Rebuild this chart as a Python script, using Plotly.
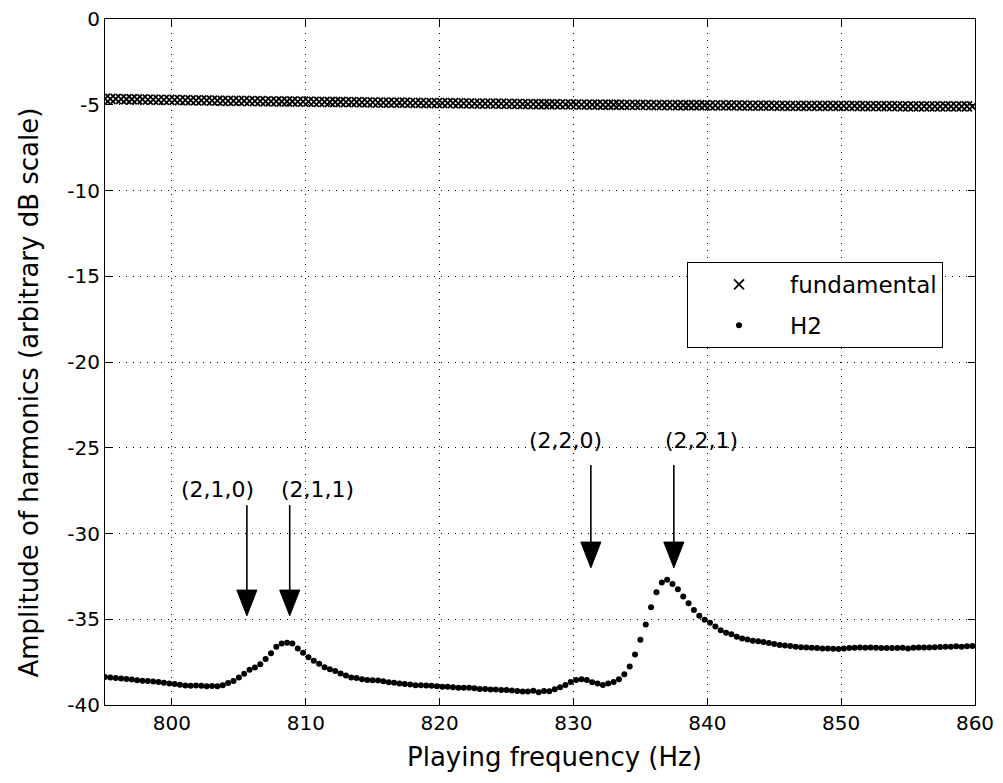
import plotly.graph_objects as go

# ---------------- data ----------------
freq = [
    795.0, 795.4, 795.8, 796.2, 796.6, 797.0, 797.4, 797.8, 798.2, 798.6,
    799.0, 799.4, 799.8, 800.2, 800.6, 801.0, 801.4, 801.8, 802.2, 802.6,
    803.0, 803.4, 803.8, 804.2, 804.6, 805.0, 805.4, 805.8, 806.2, 806.6,
    807.0, 807.4, 807.8, 808.2, 808.6, 809.0, 809.4, 809.8, 810.2, 810.6,
    811.0, 811.4, 811.8, 812.2, 812.6, 813.0, 813.4, 813.8, 814.2, 814.6,
    815.0, 815.4, 815.8, 816.2, 816.6, 817.0, 817.4, 817.8, 818.2, 818.6,
    819.0, 819.4, 819.8, 820.2, 820.6, 821.0, 821.4, 821.8, 822.2, 822.6,
    823.0, 823.4, 823.8, 824.2, 824.6, 825.0, 825.4, 825.8, 826.2, 826.6,
    827.0, 827.4, 827.8, 828.2, 828.6, 829.0, 829.4, 829.8, 830.2, 830.6,
    831.0, 831.4, 831.8, 832.2, 832.6, 833.0, 833.4, 833.8, 834.2, 834.6,
    835.0, 835.4, 835.8, 836.2, 836.6, 837.0, 837.4, 837.8, 838.2, 838.6,
    839.0, 839.4, 839.8, 840.2, 840.6, 841.0, 841.4, 841.8, 842.2, 842.6,
    843.0, 843.4, 843.8, 844.2, 844.6, 845.0, 845.4, 845.8, 846.2, 846.6,
    847.0, 847.4, 847.8, 848.2, 848.6, 849.0, 849.4, 849.8, 850.2, 850.6,
    851.0, 851.4, 851.8, 852.2, 852.6, 853.0, 853.4, 853.8, 854.2, 854.6,
    855.0, 855.4, 855.8, 856.2, 856.6, 857.0, 857.4, 857.8, 858.2, 858.6,
    859.0, 859.4, 859.8,
]

fundamental = [
    -4.65, -4.66, -4.66, -4.67, -4.68, -4.68, -4.69, -4.69, -4.70, -4.70,
    -4.71, -4.71, -4.72, -4.72, -4.73, -4.73, -4.74, -4.74, -4.75, -4.75,
    -4.76, -4.76, -4.77, -4.77, -4.77, -4.78, -4.78, -4.79, -4.79, -4.79,
    -4.80, -4.80, -4.80, -4.81, -4.81, -4.81, -4.82, -4.82, -4.82, -4.83,
    -4.83, -4.83, -4.84, -4.84, -4.84, -4.85, -4.85, -4.85, -4.86, -4.86,
    -4.86, -4.87, -4.87, -4.87, -4.88, -4.88, -4.88, -4.89, -4.89, -4.89,
    -4.90, -4.90, -4.90, -4.91, -4.91, -4.91, -4.92, -4.92, -4.92, -4.93,
    -4.93, -4.93, -4.94, -4.94, -4.94, -4.95, -4.95, -4.95, -4.96, -4.96,
    -4.96, -4.97, -4.97, -4.97, -4.97, -4.98, -4.98, -4.98, -4.98, -4.99,
    -4.99, -4.99, -4.99, -5.00, -5.00, -5.00, -5.00, -5.01, -5.01, -5.01,
    -5.01, -5.01, -5.02, -5.02, -5.02, -5.02, -5.02, -5.03, -5.03, -5.03,
    -5.03, -5.03, -5.03, -5.04, -5.04, -5.04, -5.04, -5.04, -5.04, -5.05,
    -5.05, -5.05, -5.05, -5.05, -5.05, -5.05, -5.06, -5.06, -5.06, -5.06,
    -5.06, -5.06, -5.06, -5.06, -5.07, -5.07, -5.07, -5.07, -5.07, -5.07,
    -5.07, -5.08, -5.08, -5.08, -5.08, -5.08, -5.08, -5.08, -5.08, -5.09,
    -5.09, -5.09, -5.09, -5.09, -5.09, -5.09, -5.09, -5.10, -5.10, -5.10,
    -5.10, -5.10, -5.10,
]

h2 = [
    -38.37, -38.40, -38.42, -38.45, -38.48, -38.52, -38.55, -38.58, -38.60, -38.63,
    -38.66, -38.70, -38.74, -38.78, -38.82, -38.86, -38.88, -38.87, -38.88, -38.90,
    -38.89, -38.90, -38.85, -38.72, -38.60, -38.40, -38.18, -37.95, -37.82, -37.62,
    -37.32, -36.98, -36.60, -36.42, -36.37, -36.42, -36.70, -36.95, -37.22, -37.42,
    -37.60, -37.80, -37.92, -38.02, -38.17, -38.28, -38.40, -38.42, -38.50, -38.54,
    -38.55, -38.57, -38.62, -38.68, -38.70, -38.75, -38.78, -38.80, -38.85, -38.85,
    -38.86, -38.88, -38.90, -38.93, -38.93, -38.97, -38.99, -38.99, -39.00, -39.03,
    -39.07, -39.06, -39.10, -39.10, -39.12, -39.13, -39.16, -39.18, -39.22, -39.22,
    -39.17, -39.25, -39.18, -39.20, -39.08, -38.97, -38.83, -38.66, -38.54, -38.50,
    -38.54, -38.68, -38.74, -38.83, -38.74, -38.66, -38.50, -38.20, -37.75, -37.05,
    -36.20, -35.30, -34.30, -33.42, -32.85, -32.70, -32.95, -33.25, -33.68, -34.06,
    -34.46, -34.80, -35.03, -35.20, -35.43, -35.64, -35.78, -35.88, -36.02, -36.12,
    -36.18, -36.25, -36.29, -36.33, -36.38, -36.45, -36.50, -36.53, -36.56, -36.60,
    -36.63, -36.65, -36.66, -36.68, -36.70, -36.71, -36.72, -36.74, -36.70, -36.68,
    -36.66, -36.65, -36.66, -36.64, -36.66, -36.67, -36.67, -36.68, -36.67, -36.66,
    -36.70, -36.66, -36.65, -36.65, -36.64, -36.63, -36.62, -36.61, -36.60, -36.58,
    -36.60, -36.57, -36.56,
]

x_ticks = [800, 810, 820, 830, 840, 850, 860]
x_tick_labels = ["800", "810", "820", "830", "840", "850", "860"]
y_ticks = [0, -5, -10, -15, -20, -25, -30, -35, -40]
y_tick_labels = ["0", "-5", "-10", "-15", "-20", "-25", "-30", "-35", "-40"]

mode_labels = ["(2,1,0)", "(2,1,1)", "(2,2,0)", "(2,2,1)"]
mode_arrow_x = [805.6, 808.8, 831.3, 837.5]
mode_arrow_tip = [-34.8, -34.8, -32.0, -32.0]
mode_arrow_tail = [-28.35, -28.35, -26.0, -26.0]
mode_label_x = [803.4, 810.9, 829.4, 839.6]
mode_label_y = [-27.45, -27.45, -24.6, -24.6]

x_title = "Playing frequency (Hz)"
y_title = "Amplitude of harmonics (arbitrary dB scale)"

# ---------------- figure ----------------
FONT = "DejaVu Sans, Liberation Sans, sans-serif"

fig = go.Figure()
fig.add_trace(go.Scatter(
    x=freq, y=fundamental, mode="markers", name="fundamental",
    marker=dict(symbol="x-thin", size=10, color="black",
                line=dict(width=1.8, color="black")),
    legendgroup="a",
))
fig.add_trace(go.Scatter(
    x=freq, y=h2, mode="markers", name="H2",
    marker=dict(symbol="circle", size=6, color="black", line=dict(width=0)),
    legendgroup="b",
))

shapes = []
annotations = []
head_len = 1.5   # dB
head_hw = 0.75   # Hz
for lab, ax, tip, tail, lx, ly in zip(mode_labels, mode_arrow_x, mode_arrow_tip,
                                      mode_arrow_tail, mode_label_x, mode_label_y):
    base = tip + head_len
    shapes.append(dict(type="line", xref="x", yref="y", x0=ax, x1=ax, y0=tail, y1=base,
                       line=dict(color="black", width=1.6)))
    shapes.append(dict(type="path", xref="x", yref="y",
                       path=f"M {ax - head_hw},{base} L {ax + head_hw},{base} L {ax},{tip} Z",
                       fillcolor="black", line=dict(color="black", width=1)))
    annotations.append(dict(x=lx, y=ly, xref="x", yref="y", text=lab, showarrow=False,
                            font=dict(family=FONT, size=22, color="black")))

# axis titles (placed as in the reference)
annotations.append(dict(x=0.517, y=-0.076, xref="paper", yref="paper", text=x_title,
                        showarrow=False, xanchor="center", yanchor="middle",
                        font=dict(family=FONT, size=26, color="black")))
annotations.append(dict(x=-0.087, y=0.456, xref="paper", yref="paper", text=y_title,
                        showarrow=False, xanchor="center", yanchor="middle", textangle=-90,
                        font=dict(family=FONT, size=26, color="black")))

fig.update_layout(
    width=995, height=775,
    margin=dict(l=97, r=28, t=11, b=78),
    paper_bgcolor="white", plot_bgcolor="white",
    font=dict(family=FONT, size=20, color="black"),
    shapes=shapes, annotations=annotations,
    showlegend=True,
    legend=dict(x=0.669, y=0.646, xanchor="left", yanchor="top",
                bgcolor="white", bordercolor="black", borderwidth=1,
                font=dict(family=FONT, size=23, color="black"),
                traceorder="grouped", tracegroupgap=8, itemwidth=92),
)
fig.update_xaxes(
    range=[795, 860], tickvals=x_ticks, ticktext=x_tick_labels,
    showline=True, linecolor="black", linewidth=1.2, mirror="ticks",
    ticks="inside", ticklen=7, tickcolor="black",
    showgrid=True, gridcolor="black", gridwidth=1, griddash="1px,6px",
    zeroline=False, automargin=False, ticklabeloverflow="allow",
)
fig.update_yaxes(
    range=[-40, 0], tickvals=y_ticks, ticktext=y_tick_labels,
    showline=True, linecolor="black", linewidth=1.2, mirror="ticks",
    ticks="inside", ticklen=7, tickcolor="black",
    showgrid=True, gridcolor="black", gridwidth=1, griddash="1px,6px",
    zeroline=False, automargin=False, ticklabeloverflow="allow",
)

fig.write_html("out.html")
